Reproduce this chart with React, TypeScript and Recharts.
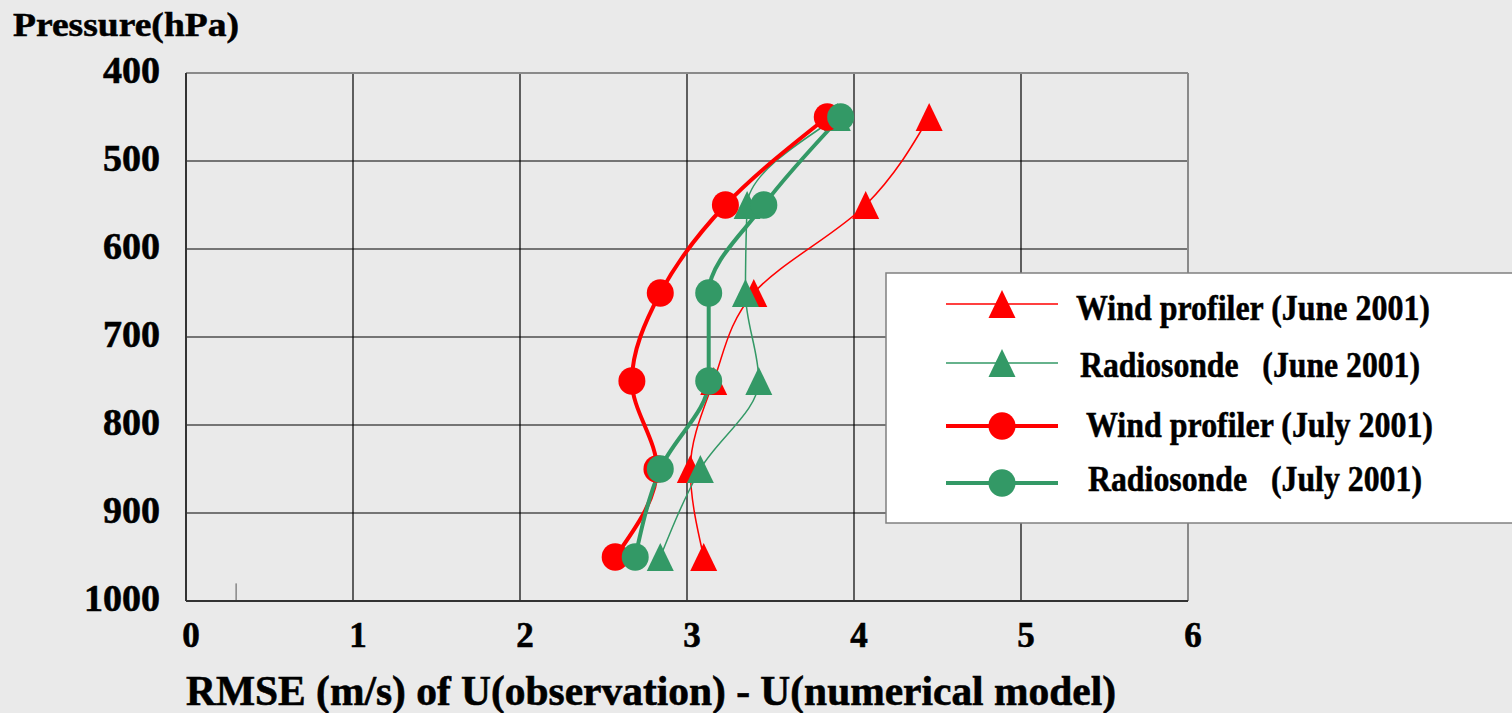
import React from 'react';
import { LineChart, Line, XAxis, YAxis, ReferenceLine, CartesianGrid } from 'recharts';

// ---- data ----
const pressureLevels = [450, 550, 650, 750, 850, 950];
const windProfilerJune = [4.45, 4.07, 3.4, 3.16, 3.02, 3.1];
const radiosondeJune = [3.9, 3.36, 3.35, 3.43, 3.08, 2.84];
const windProfilerJuly = [3.84, 3.23, 2.84, 2.67, 2.82, 2.57];
const radiosondeJuly = [3.92, 3.46, 3.13, 3.13, 2.84, 2.69];

const xTicks = [0, 1, 2, 3, 4, 5, 6];
const yTicks = [400, 500, 600, 700, 800, 900, 1000];
const xGrid = [1, 2, 3, 4, 5];
const yGrid = [500, 600, 700, 800, 900];
const strayMark = [
  { x: 0.3, y: 980 },
  { x: 0.3, y: 1000 },
];

const seriesNames = [
  'Wind profiler (June 2001)',
  'Radiosonde   (June 2001)',
  'Wind profiler (July 2001)',
  'Radiosonde   (July 2001)',
];
const yTitle = 'Pressure(hPa)';
const xTitle = 'RMSE (m/s) of U(observation) - U(numerical model)';

const RED = '#FF0000';
const GREEN = '#339966';
const FONT = '"Liberation Serif", "Times New Roman", serif';

type Series = { name: string; values: number[]; color: string; width: number; shape: 'triangle' | 'circle' };
const series: Series[] = [
  { name: seriesNames[0], values: windProfilerJune, color: RED, width: 1.5, shape: 'triangle' },
  { name: seriesNames[1], values: radiosondeJune, color: GREEN, width: 1.5, shape: 'triangle' },
  { name: seriesNames[2], values: windProfilerJuly, color: RED, width: 4, shape: 'circle' },
  { name: seriesNames[3], values: radiosondeJuly, color: GREEN, width: 4, shape: 'circle' },
];

const toRows = (vals: number[]) => pressureLevels.map((p, i) => ({ p, v: vals[i] }));

function markerPath(shape: string, cx: number, cy: number, color: string, key: string) {
  if (shape === 'circle') {
    return <ellipse key={key} cx={cx} cy={cy} rx={13.5} ry={13.8} fill={color} stroke="none" />;
  }
  return (
    <path
      key={key}
      d={`M${cx},${cy - 14}L${cx + 13.5},${cy + 14}L${cx - 13.5},${cy + 14}Z`}
      fill={color}
      stroke="none"
    />
  );
}

const makeDot = (shape: string, color: string) => (props: any) => {
  const { cx, cy, index } = props;
  if (cx == null || cy == null) return <g key={`e${index}`} />;
  return markerPath(shape, cx, cy, color, `m${index}`);
};

const YTick = (props: any) => {
  const { x, y, payload } = props;
  return (
    <text
      x={x - 26}
      y={y + 10}
      textAnchor="end"
      fontFamily={FONT}
      fontWeight="bold"
      fontSize={38}
      fill="#000"
      stroke="#000"
      strokeWidth={0.6}
    >
      {payload.value}
    </text>
  );
};

const XTick = (props: any) => {
  const { x, y, payload } = props;
  return (
    <text
      x={x + 5}
      y={y + 46}
      textAnchor="middle"
      fontFamily={FONT}
      fontWeight="bold"
      fontSize={35}
      fill="#000"
      stroke="#000"
      strokeWidth={0.6}
    >
      {payload.value}
    </text>
  );
};

// legend layout (styling only)
const legendRowY = [304, 363, 426, 483];
const legendTextX = [1076, 1080, 1086, 1088];
const legendTextW = [354, 340, 347, 334];
const legendBaseline = [320, 377, 437, 491];

export default function App() {
  return (
    <div
      style={{
        position: 'absolute',
        left: 0,
        top: 0,
        width: 1512,
        height: 713,
        background: '#EAEAEA',
        overflow: 'hidden',
      }}
    >
      <div style={{ position: 'absolute', left: 0, top: 0 }}>
        <LineChart
          width={1512}
          height={713}
          layout="vertical"
          margin={{ top: 73, right: 324, bottom: 72, left: 106 }}
        >
          <CartesianGrid
            stroke="#000"
            strokeWidth={1.2}
            verticalValues={xGrid}
            horizontalValues={yGrid}
          />
          <ReferenceLine y={400} stroke="#8a8a8a" strokeWidth={2} />
          <ReferenceLine x={6} stroke="#8a8a8a" strokeWidth={2} />
          <ReferenceLine segment={strayMark} stroke="#555" strokeWidth={1} />
          <XAxis
            type="number"
            domain={[0, 6]}
            ticks={xTicks}
            height={40}
            tickSize={0}
            tickMargin={0}
            tickLine={false}
            axisLine={{ stroke: '#333', strokeWidth: 2 }}
            tick={<XTick />}
            allowDataOverflow
          />
          <YAxis
            type="number"
            dataKey="p"
            domain={[400, 1000]}
            ticks={yTicks}
            width={80}
            tickSize={0}
            tickMargin={0}
            tickLine={false}
            axisLine={{ stroke: '#333', strokeWidth: 2 }}
            tick={<YTick />}
            allowDataOverflow
          />
          {series.map((s) => (
            <Line
              key={s.name}
              data={toRows(s.values)}
              dataKey="v"
              name={s.name}
              type="monotone"
              stroke={s.color}
              strokeWidth={s.width}
              dot={makeDot(s.shape, s.color)}
              activeDot={false}
              isAnimationActive={false}
            />
          ))}
        </LineChart>
      </div>
      <svg width={1512} height={713} style={{ position: 'absolute', left: 0, top: 0, pointerEvents: 'none' }}>
        <text
          x={13}
          y={36}
          fontFamily={FONT}
          fontWeight="bold"
          fontSize={33}
          textLength={226}
          lengthAdjust="spacingAndGlyphs"
          fill="#000"
          stroke="#000"
          strokeWidth={0.5}
        >
          {yTitle}
        </text>
        <text
          x={186}
          y={705}
          fontFamily={FONT}
          fontWeight="bold"
          fontSize={42}
          textLength={930}
          lengthAdjust="spacingAndGlyphs"
          fill="#000"
          stroke="#000"
          strokeWidth={0.6}
        >
          {xTitle}
        </text>
        <rect x={886} y={273} width={640} height={250} fill="#FFFFFF" stroke="#808080" strokeWidth={1.5} />
        {series.map((s, i) => (
          <g key={s.name}>
            <line x1={946} x2={1058} y1={legendRowY[i]} y2={legendRowY[i]} stroke={s.color} strokeWidth={s.width} />
            {markerPath(s.shape, 1002, legendRowY[i], s.color, `lg${i}`)}
            <text
              x={legendTextX[i]}
              y={legendBaseline[i]}
              fontFamily={FONT}
              fontWeight="bold"
              fontSize={35}
              textLength={legendTextW[i]}
              lengthAdjust="spacingAndGlyphs"
              fill="#000"
              stroke="#000"
              strokeWidth={0.5}
              style={{ whiteSpace: 'pre' }}
            >
              {s.name}
            </text>
          </g>
        ))}
      </svg>
    </div>
  );
}
